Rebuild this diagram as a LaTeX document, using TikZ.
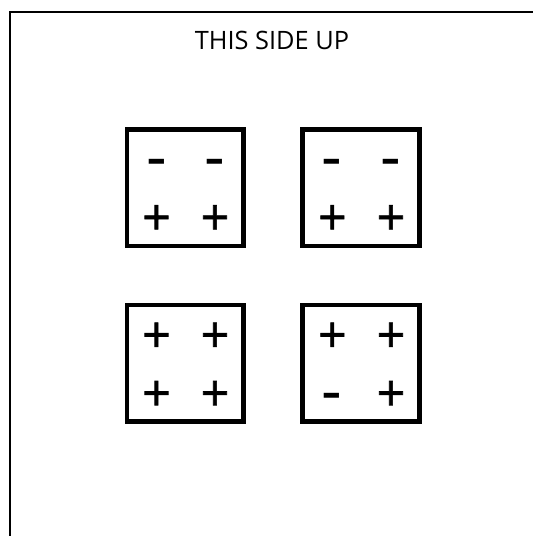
\documentclass[tikz,border=0pt]{standalone}
\usepackage{fontspec}
\setmainfont{Open Sans}
\newfontfamily\plusfont[FakeBold=1.2]{Open Sans}
\begin{document}
\begin{tikzpicture}[x=0.75pt,y=-0.75pt,
  frameline/.style={line width=1.5pt,black},
  cell/.style={draw=black,line width=3.5pt,minimum width=87.5pt,minimum height=87.5pt,inner sep=0pt},
  plus/.style={inner sep=0pt,anchor=base,yshift=-13.1pt,font=\plusfont\fontsize{37.5}{37.5}\selectfont},
  minus/.style={inner sep=0pt,anchor=base,yshift=-8.4pt,xscale=1.45,font=\bfseries\fontsize{30}{30}\selectfont},
  title/.style={inner sep=0pt,anchor=base,font=\fontsize{19}{24}\selectfont}]
\useasboundingbox (0,0) rectangle (533,536);
\coordinate (fb) at (9.5,536);
\coordinate (fc) at (9.5,12);
\coordinate (fr) at (533,12);
\draw[frameline] (fb) -- (fc) -- (fr);
\node[title] (t) at (272,49.3) {THIS SIDE UP};
% boxes
\node[cell] (b1) at (185.35,187.8) {};
\node[cell] (b2) at (360.85,187.8) {};
\node[cell] (b3) at (185.35,363.3) {};
\node[cell] (b4) at (360.85,363.3) {};
% symbols
\node[minus] (b1a) at (156.5,161) {-};
\node[minus] (b1b) at (215,161) {-};
\node[plus] (b1c) at (156.5,217.5) {+};
\node[plus] (b1d) at (215,217.5) {+};
\node[minus] (b2a) at (332.3,161) {-};
\node[minus] (b2b) at (391,161) {-};
\node[plus] (b2c) at (332.3,217.5) {+};
\node[plus] (b2d) at (391,217.5) {+};
\node[plus] (b3a) at (156.5,335) {+};
\node[plus] (b3b) at (215,335) {+};
\node[plus] (b3c) at (156.5,393.3) {+};
\node[plus] (b3d) at (215,393.3) {+};
\node[plus] (b4a) at (332.3,335) {+};
\node[plus] (b4b) at (391,335) {+};
\node[minus] (b4c) at (332.3,394.8) {-};
\node[plus] (b4d) at (391,393.3) {+};
\end{tikzpicture}
\end{document}
